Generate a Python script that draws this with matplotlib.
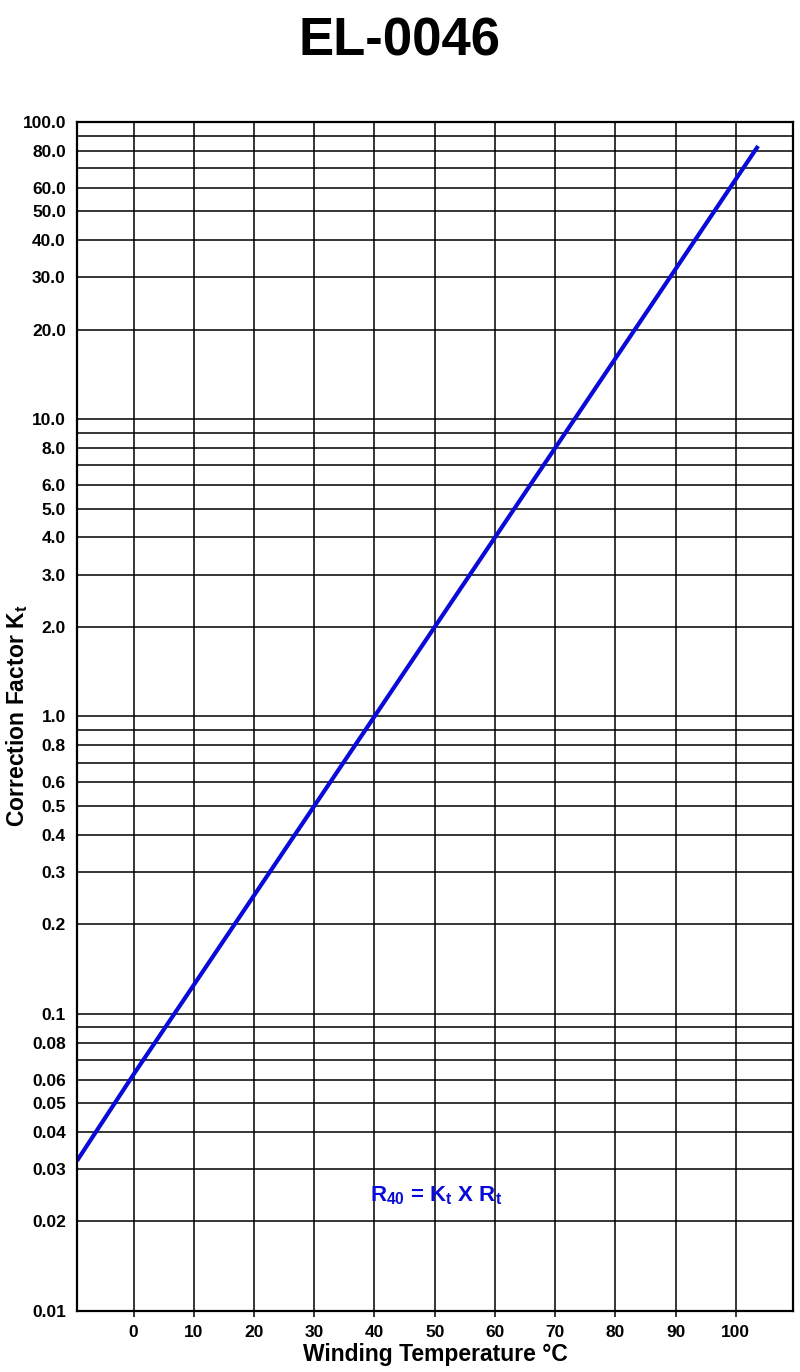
import matplotlib
matplotlib.use("Agg")
import matplotlib.pyplot as plt
from matplotlib.ticker import FixedLocator, FixedFormatter, NullLocator

# ---- data ----
temps = [-9.4, 0, 10, 20, 30, 40, 50, 60, 70, 80, 90, 103.7]
kt = [0.032, 0.0625, 0.125, 0.25, 0.5, 1.0, 2.0, 4.0, 8.0, 16.0, 32.0, 83.0]

x_ticks = [0, 10, 20, 30, 40, 50, 60, 70, 80, 90, 100]
x_labels = ["0", "10", "20", "30", "40", "50", "60", "70", "80", "90", "100"]

y_grid = [m * 10.0 ** e for e in (-2, -1, 0, 1) for m in range(1, 10)] + [100.0]
y_ticks = [0.01, 0.02, 0.03, 0.04, 0.05, 0.06, 0.08,
           0.1, 0.2, 0.3, 0.4, 0.5, 0.6, 0.8,
           1.0, 2.0, 3.0, 4.0, 5.0, 6.0, 8.0,
           10.0, 20.0, 30.0, 40.0, 50.0, 60.0, 80.0, 100.0]
y_labels = ["0.01", "0.02", "0.03", "0.04", "0.05", "0.06", "0.08",
            "0.1", "0.2", "0.3", "0.4", "0.5", "0.6", "0.8",
            "1.0", "2.0", "3.0", "4.0", "5.0", "6.0", "8.0",
            "10.0", "20.0", "30.0", "40.0", "50.0", "60.0", "80.0", "100.0"]

title = "EL-0046"
xlabel = "Winding Temperature \u00b0C"
ylabel = r"Correction Factor $\mathbf{K_t}$"
formula = r"$\mathbf{R_{40}}$ = $\mathbf{K_t}$ X $\mathbf{R_t}$"

LINE_BLUE = "#0a0ad8"

plt.rcParams["font.family"] = ["Liberation Sans", "DejaVu Sans"]
plt.rcParams["mathtext.fontset"] = "custom"
plt.rcParams["mathtext.rm"] = "Liberation Sans:bold"
plt.rcParams["mathtext.bf"] = "Liberation Sans:bold"
plt.rcParams["mathtext.it"] = "Liberation Sans:bold"

fig = plt.figure(figsize=(8.0, 13.72), dpi=100)
ax = fig.add_axes([0.09625, 0.0445, 0.895, 0.8666])

ax.set_yscale("log")
ax.set_xlim(-9.4, 109.5)
ax.set_ylim(0.01, 100)

# grid lines
for v in y_grid:
    ax.axhline(v, color="black", lw=1.1, zorder=1)
for v in x_ticks:
    ax.axvline(v, color="black", lw=1.1, zorder=1)

ax.plot(temps, kt, color=LINE_BLUE, lw=3.0, solid_capstyle="butt", zorder=3)

ax.yaxis.set_major_locator(FixedLocator(y_ticks))
ax.yaxis.set_major_formatter(FixedFormatter(y_labels))
ax.yaxis.set_minor_locator(NullLocator())
ax.xaxis.set_major_locator(FixedLocator(x_ticks))
ax.xaxis.set_major_formatter(FixedFormatter(x_labels))

ax.tick_params(axis="y", length=0, pad=8, labelsize=12.5)
ax.tick_params(axis="x", length=4, width=1.1, direction="out", pad=6, labelsize=12.5)
for lab in ax.get_xticklabels() + ax.get_yticklabels():
    lab.set_fontweight("bold")

for s in ax.spines.values():
    s.set_linewidth(1.6)
    s.set_zorder(4)

ax.set_xlabel(xlabel, fontsize=16.5, fontweight="bold", labelpad=2)
fig.text(17 / 800, 0.478, ylabel, fontsize=16.5, fontweight="bold",
         rotation=90, ha="center", va="center")

ax.text(50.2, 0.0245, formula, color=LINE_BLUE, fontsize=16, fontweight="bold",
        ha="center", va="center", zorder=5)

fig.text(0.5, 0.970, title, fontsize=38, fontweight="bold",
         ha="center", va="center")

fig.savefig("out.png", dpi=100)
